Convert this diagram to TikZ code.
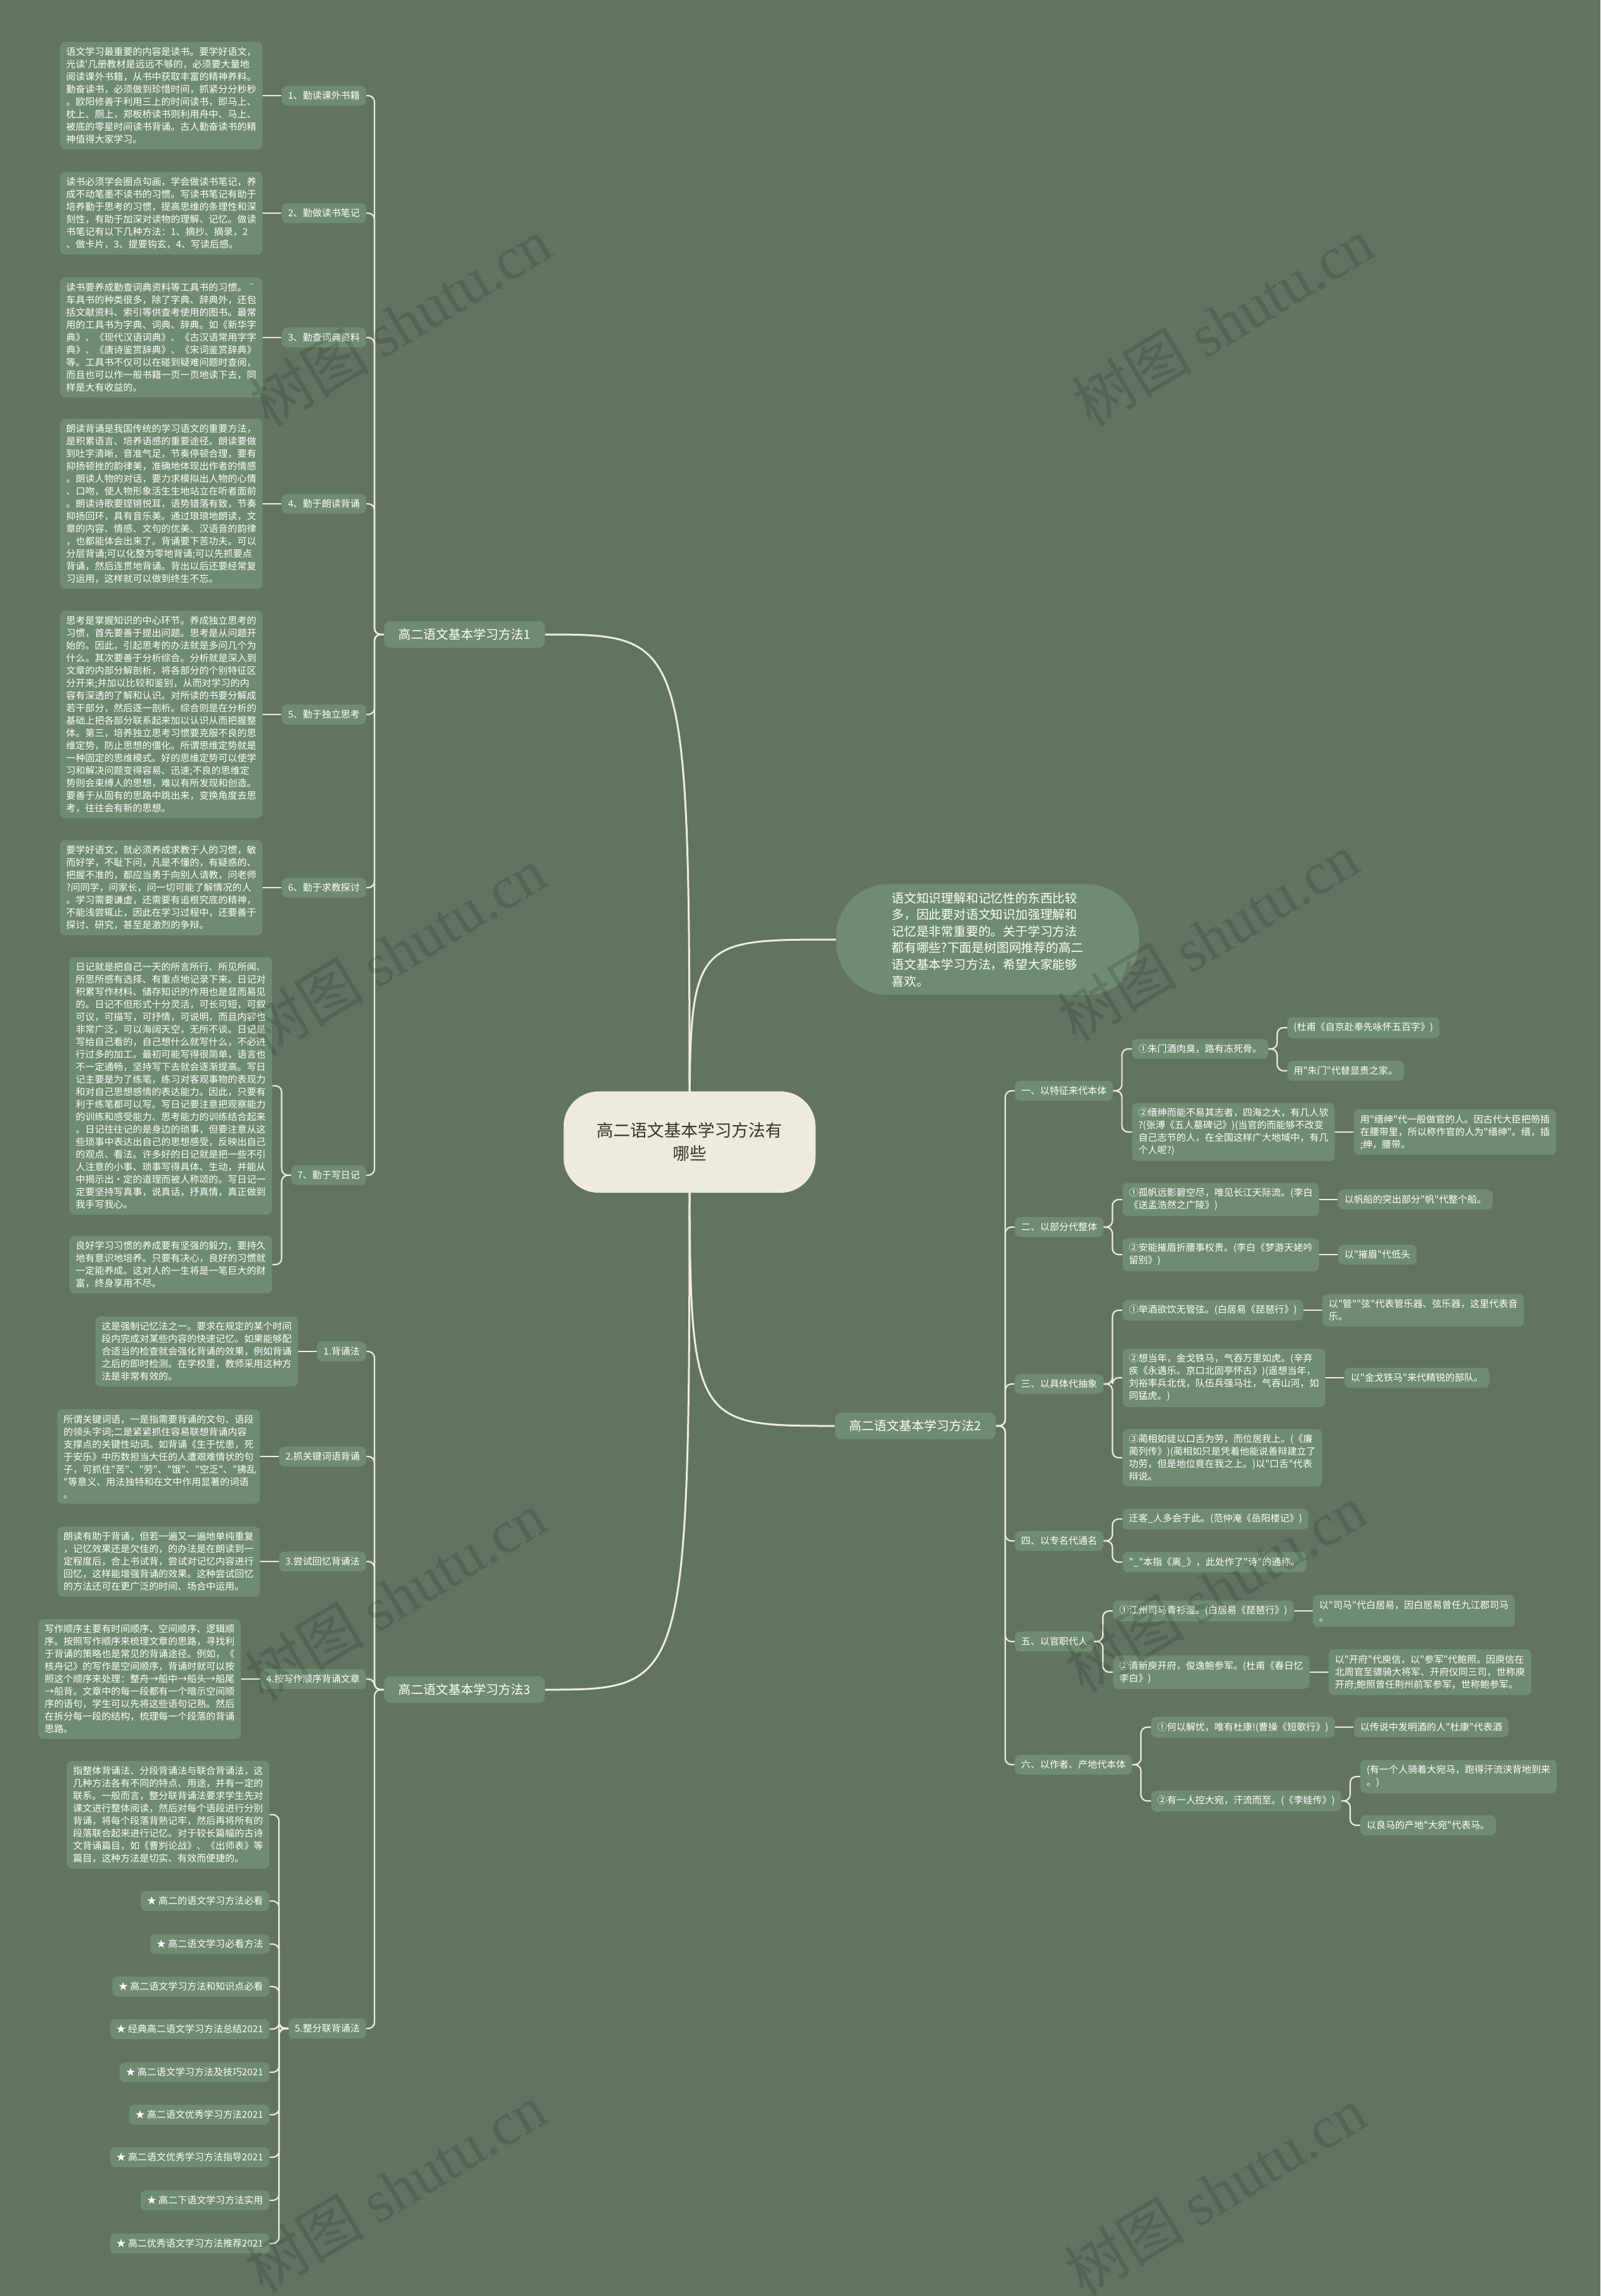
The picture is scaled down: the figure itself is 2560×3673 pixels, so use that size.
\documentclass[tikz,border=0pt]{standalone}
\usepackage{fontspec}
\setmainfont{Noto Sans CJK SC}
\newfontfamily\zhfont{Noto Sans CJK SC}
\newfontfamily\wmlatin{Liberation Serif}
\usetikzlibrary{positioning}
\definecolor{bgc}{RGB}{98,115,97}
\definecolor{boxc}{RGB}{111,139,113}
\definecolor{linec}{RGB}{242,237,220}
\definecolor{rootc}{RGB}{239,235,220}
\pgfdeclarelayer{edgelayer}
\pgfsetlayers{edgelayer,main}

\begin{document}
\begin{tikzpicture}[x=0.5pt,y=-0.5pt,every node/.style={inner sep=0pt},
  lab/.style={fill=boxc,text=white,rounded corners=4pt,inner xsep=5pt,inner ysep=4.4pt,font=\zhfont\fontsize{7.6}{10}\selectfont},
  txt/.style={lab,text width=152pt,align=left},
  note/.style={lab,align=left},
  branch/.style={fill=boxc,text=white,rounded corners=5pt,inner xsep=11.5pt,inner ysep=6pt,font=\zhfont\fontsize{10}{12}\selectfont},
  root/.style={fill=rootc,text=black!80,rounded corners=28pt,align=center,inner xsep=26.5pt,inner ysep=25pt,font=\zhfont\fontsize{13.5}{18.5}\selectfont},
  intro/.style={fill=boxc,text=white,rounded corners=42pt,align=left,inner xsep=44.5pt,inner ysep=6.5pt,font=\zhfont\fontsize{9.9}{13.3}\selectfont},
  link/.style={draw=linec,line width=1.1pt,rounded corners=5pt},
  trunk/.style={draw=linec,line width=1.5pt},
  wmark/.style={rotate=31,text=black,text opacity=0.13,font=\zhfont\fontsize{48}{48}\selectfont}]
\useasboundingbox (0,0) rectangle (2560,3673);

\node[root] (root) at (1103,1827) {高二语文基本学习方法有\\哪些};
\node[intro,anchor=west] (intro) at (1337,1503) {语文知识理解和记忆性的东西比较\\多，因此要对语文知识加强理解和\\记忆是非常重要的。关于学习方法\\都有哪些?下面是树图网推荐的高二\\语文基本学习方法，希望大家能够\\喜欢。};
\node[branch,anchor=west] (b1) at (614,1015) {高二语文基本学习方法1};
\node[branch,anchor=east] (b2) at (1593,2281) {高二语文基本学习方法2};
\node[branch,anchor=west] (b3) at (614,2703) {高二语文基本学习方法3};

\node[lab,anchor=east] (l1) at (586,153) {1、勤读课外书籍};
\node[lab,anchor=east] (l2) at (586,341) {2、勤做读书笔记};
\node[lab,anchor=east] (l3) at (586,540) {3、勤查词典资料};
\node[lab,anchor=east] (l4) at (586,806) {4、勤于朗读背诵};
\node[lab,anchor=east] (l5) at (586,1143) {5、勤于独立思考};
\node[lab,anchor=east] (l6) at (586,1420) {6、勤于求教探讨};
\node[lab,anchor=east] (l7) at (586,1880) {7、勤于写日记};

\node[txt,left=15pt of l1] (t1) {语文学习最重要的内容是读书。要学好语文，\\光读'几册教材是远远不够的，必须要大量地\\阅读课外书籍，从书中获取丰富的精神养料。\\勤奋读书，必须做到珍惜时间，抓紧分分秒秒\\。欧阳修善于利用三上的时间读书，即马上、\\枕上、厕上，郑板桥读书则利用舟中、马上、\\被底的零星时间读书背诵。古人勤奋读书的精\\神值得大家学习。};
\node[txt,left=15pt of l2] (t2) {读书必须学会圈点勾画，学会做读书笔记，养\\成不动笔墨不读书的习惯。写读书笔记有助于\\培养勤于思考的习惯，提高思维的条理性和深\\刻性，有助于加深对读物的理解、记忆。做读\\书笔记有以下几种方法：1、摘抄、摘录，2\\、做卡片，3、提要钩玄，4、写读后感。};
\node[txt,left=15pt of l3] (t3) {读书要养成勤查词典资料等工具书的习惯。ˉ\\车具书的种类很多，除了字典、辞典外，还包\\括文献资料、索引等供查考使用的图书。最常\\用的工具书为字典、词典、辞典。如《新华字\\典》、《现代汉语词典》、《古汉语常用字字\\典》、《唐诗鉴赏辞典》、《宋词鉴赏辞典》\\等。工具书不仅可以在碰到疑难问题时查阅，\\而且也可以作一般书籍一页一页地读下去，同\\样是大有收益的。};
\node[txt,left=15pt of l4] (t4) {朗读背诵是我国传统的学习语文的重要方法，\\是积累语言、培养语感的重要途径。朗读要做\\到吐字清晰，音准气足，节奏停顿合理，要有\\抑扬顿挫的韵律美，准确地体现出作者的情感\\。朗读人物的对话，要力求模拟出人物的心情\\、口吻，使人物形象活生生地站立在听者面前\\。朗读诗歌要铿锵悦耳，语势错落有致，节奏\\抑扬回环，具有音乐美。通过琅琅地朗读，文\\章的内容、情感、文句的优美、汉语音的韵律\\，也都能体会出来了。背诵要下苦功夫。可以\\分层背诵;可以化整为零地背诵;可以先抓要点\\背诵，然后连贯地背诵。背出以后还要经常复\\习运用，这样就可以做到终生不忘。};
\node[txt,left=15pt of l5] (t5) {思考是掌握知识的中心环节。养成独立思考的\\习惯，首先要善于提出问题。思考是从问题开\\始的。因此，引起思考的办法就是多问几个为\\什么。其次要善于分析综合。分析就是深入到\\文章的内部分解剖析，将各部分的个别特征区\\分开来;并加以比较和鉴别，从而对学习的内\\容有深透的了解和认识。对所读的书要分解成\\若干部分，然后逐一剖析。综合则是在分析的\\基础上把各部分联系起来加以认识从而把握整\\体。第三，培养独立思考习惯要克服不良的思\\维定势，防止思想的僵化。所谓思维定势就是\\一种固定的思维模式。好的思维定势可以使学\\习和解决问题变得容易、迅速;不良的思维定\\势则会束缚人的思想，难以有所发现和创造。\\要善于从固有的思路中跳出来，变换角度去思\\考，往往会有新的思想。};
\node[txt,left=15pt of l6] (t6) {要学好语文，就必须养成求教于人的习惯，敏\\而好学，不耻下问，凡是不懂的，有疑惑的、\\把握不准的，都应当勇于向别人请教，问老师\\?问同学，问家长，问一切可能了解情况的人\\。学习需要谦虚，还需要有追根究底的精神，\\不能浅尝辄止，因此在学习过程中，还要善于\\探讨、研究，甚至是激烈的争辩。};
\node[txt,left=15pt of l7,yshift=71.5pt] (t7) {日记就是把自己一天的所言所行、所见所闻、\\所思所感有选择、有重点地记录下来。日记对\\积累写作材料、储存知识的作用也是显而易见\\的。日记不但形式十分灵活，可长可短，可叙\\可议，可描写，可抒情，可说明，而且内容也\\非常广泛，可以海阔天空，无所不谈。日记是\\写给自己看的，自己想什么就写什么，不必进\\行过多的加工。最初可能写得很简单，语言也\\不一定通畅，坚持写下去就会逐渐提高。写日\\记主要是为了练笔，练习对客观事物的表现力\\和对自己思想感情的表达能力。因此，只要有\\利于练笔都可以写。写日记要注意把观察能力\\的训练和感受能力、思考能力的训练结合起来\\。日记往往记的是身边的琐事，但要注意从这\\些琐事中表达出自己的思想感受，反映出自己\\的观点、看法。许多好的日记就是把一些不引\\人注意的小事、琐事写得具体、生动，并能从\\中揭示出·定的道理而被人称颂的。写日记一\\定要坚持写真事，说真话，抒真情，真正做到\\我手写我心。};
\node[txt,left=15pt of l7,yshift=-71.5pt] (t8) {良好学习习惯的养成要有坚强的毅力，要持久\\地有意识地培养。只要有决心，良好的习惯就\\一定能养成。这对人的一生将是一笔巨大的财\\富，终身享用不尽。};

\node[lab,anchor=east] (m1) at (586,2162) {1.背诵法};
\node[lab,anchor=east] (m2) at (586,2330) {2.抓关键词语背诵};
\node[lab,anchor=east] (m3) at (586,2498) {3.尝试回忆背诵法};
\node[lab,anchor=east] (m4) at (586,2686) {4.按写作顺序背诵文章};
\node[lab,anchor=east] (m5) at (586,3245) {5.整分联背诵法};

\node[txt,left=15pt of m1] (u1) {这是强制记忆法之一。要求在规定的某个时间\\段内完成对某些内容的快速记忆。如果能够配\\合适当的检查就会强化背诵的效果，例如背诵\\之后的即时检测。在学校里，教师采用这种方\\法是非常有效的。};
\node[txt,left=15pt of m2] (u2) {所谓关键词语，一是指需要背诵的文句、语段\\的领头字词;二是紧紧抓住容易联想背诵内容\\支撑点的关键性动词。如背诵《生于忧患，死\\于安乐》中历数担当大任的人遭艰难情状的句\\子，可抓住"苦"、"劳"、"饿"、"空乏"、"拂乱\\"等意义、用法独特和在文中作用显著的词语\\。};
\node[txt,left=15pt of m3] (u3) {朗读有助于背诵，但若一遍又一遍地单纯重复\\，记忆效果还是欠佳的，的办法是在朗读到一\\定程度后，合上书试背，尝试对记忆内容进行\\回忆，这样能增强背诵的效果。这种尝试回忆\\的方法还可在更广泛的时间、场合中运用。};
\node[txt,left=15pt of m4] (u4) {写作顺序主要有时间顺序、空间顺序、逻辑顺\\序。按照写作顺序来梳理文章的思路，寻找利\\于背诵的策略也是常见的背诵途径。例如，《\\核舟记》的写作是空间顺序，背诵时就可以按\\照这个顺序来处理：整舟→船中→船头→船尾\\→船背。文章中的每一段都有一个暗示空间顺\\序的语句，学生可以先将这些语句记熟。然后\\在拆分每一段的结构，梳理每一个段落的背诵\\思路。};
\node[txt,left=15pt of m5,yshift=171pt] (u5) {指整体背诵法、分段背诵法与联合背诵法，这\\几种方法各有不同的特点、用途，并有一定的\\联系。一般而言，整分联背诵法要求学生先对\\课文进行整体阅读，然后对每个语段进行分别\\背诵，将每个段落背熟记牢，然后再将所有的\\段落联合起来进行记忆。对于较长篇幅的古诗\\文背诵篇目，如《曹刿论战》、《出师表》等\\篇目，这种方法是切实、有效而便捷的。};
\foreach \i/\dy/\t in {1/102/高二的语文学习方法必看,2/67.5/高二语文学习必看方法,3/33.5/高二语文学习方法和知识点必看,4/-0.5/经典高二语文学习方法总结2021,5/-35/高二语文学习方法及技巧2021,6/-69/高二语文优秀学习方法2021,7/-103/高二语文优秀学习方法指导2021,8/-137.5/高二下语文学习方法实用,9/-172/高二优秀语文学习方法推荐2021}
  \node[lab,left=15pt of m5,yshift=\dy pt] (s\i) {★ \t};

\node[lab,anchor=west] (c1) at (1623,1745) {一、以特征来代本体};
\node[lab,anchor=west] (c2) at (1623,1963) {二、以部分代整体};
\node[lab,anchor=west] (c3) at (1623,2214) {三、以具体代抽象};
\node[lab,anchor=west] (c4) at (1623,2465) {四、以专名代通名};
\node[lab,anchor=west] (c5) at (1623,2626) {五、以官职代人};
\node[lab,anchor=west] (c6) at (1623,2823) {六、以作者、产地代本体};

\node[note,right=15pt of c1,yshift=33.5pt] (r1a) {①朱门酒肉臭，路有冻死骨。};
\node[note,right=15pt of r1a,yshift=17pt] (r1a1) {(杜甫《自京赴奉先咏怀五百字》)};
\node[note,right=15pt of r1a,yshift=-17.5pt] (r1a2) {用"朱门"代替显贵之家。};
\node[note,right=15pt of c1,yshift=-33pt] (r1b) {②缙绅而能不易其志者，四海之大，有几人欤\\?(张溥《五人墓碑记》)(当官的而能够不改变\\自己志节的人，在全国这样广大地域中，有几\\个人呢?)};
\node[note,right=15pt of r1b] (r1b1) {用"缙绅"代一般做官的人。因古代大臣把笏插\\在腰带里，所以称作官的人为"缙绅"。缙，插\\;绅，腰带。};
\node[note,right=15pt of c2,yshift=22pt] (r2a) {①孤帆远影碧空尽，唯见长江天际流。(李白\\《送孟浩然之广陵》)};
\node[note,right=15pt of r2a] (r2a1) {以帆船的突出部分"帆"代整个船。};
\node[note,right=15pt of c2,yshift=-22pt] (r2b) {②安能摧眉折腰事权贵。(李白《梦游天姥吟\\留别》)};
\node[note,right=15pt of r2b] (r2b1) {以"摧眉"代低头};
\node[note,right=15pt of c3,yshift=59pt] (r3a) {①举酒欲饮无管弦。(白居易《琵琶行》)};
\node[note,right=15pt of r3a] (r3a1) {以"管""弦"代表管乐器、弦乐器，这里代表音\\乐。};
\node[note,right=15pt of c3,yshift=5pt] (r3b) {②想当年，金戈铁马，气吞万里如虎。(辛弃\\疾《永遇乐。京口北固亭怀古》)(遥想当年，\\刘裕率兵北伐，队伍兵强马壮，气吞山河，如\\同猛虎。)};
\node[note,right=15pt of r3b] (r3b1) {以"金戈铁马"来代精锐的部队。};
\node[note,right=15pt of c3,yshift=-59pt] (r3c) {③蔺相如徒以口舌为劳，而位居我上。(《廉\\蔺列传》)(蔺相如只是凭着他能说善辩建立了\\功劳，但是地位竟在我之上。)以"口舌"代表\\辩说。};
\node[note,right=15pt of c4,yshift=17.5pt] (r4a) {迁客\_人多会于此。(范仲淹《岳阳楼记》)};
\node[note,right=15pt of c4,yshift=-17pt] (r4b) {"\_"本指《离\_》，此处作了"诗"的通称。};
\node[note,right=15pt of c5,yshift=24.5pt] (r5a) {①江州司马青衫湿。(白居易《琵琶行》)};
\node[note,right=15pt of r5a] (r5a1) {以"司马"代白居易，因白居易曾任九江郡司马\\。};
\node[note,right=15pt of c5,yshift=-24.5pt] (r5b) {②清新庾开府，俊逸鲍参军。(杜甫《春日忆\\李白》)};
\node[note,right=15pt of r5b] (r5b1) {以"开府"代庾信，以"参军"代鲍照。因庾信在\\北周官至骠骑大将军、开府仪同三司，世称庾\\开府;鲍照曾任荆州前军参军，世称鲍参军。};
\node[note,right=15pt of c6,yshift=30pt] (r6a) {①何以解忧，唯有杜康!(曹操《短歌行》)};
\node[note,right=15pt of r6a] (r6a1) {以传说中发明酒的人"杜康"代表酒};
\node[note,right=15pt of c6,yshift=-29pt] (r6b) {②有一人控大宛，汗流而至。(《李娃传》)};
\node[note,right=15pt of r6b,yshift=19.5pt] (r6b1) {(有一个人骑着大宛马，跑得汗流浃背地到来\\。)};
\node[note,right=15pt of r6b,yshift=-19.5pt] (r6b2) {以良马的产地"大宛"代表马。};

\begin{pgfonlayer}{edgelayer}
\fill[bgc] (0,0) rectangle (2560,3673);
\draw[trunk] (root.center) .. controls (root.center |- b1.east) .. (b1.east);
\draw[trunk] (root.center) .. controls (root.center |- b3.east) .. (b3.east);
\draw[trunk] (root.center) .. controls (root.center |- intro.west) .. (intro.west);
\draw[trunk] (root.center) .. controls (root.center |- b2.west) .. (b2.west);
\foreach \i in {1,...,7} \draw[link] (b1.west) -- ++(-15,0) |- (l\i.east);
\foreach \i in {1,...,6} \draw[link] (l\i.west) -- (t\i.east);
\foreach \n in {t7,t8} \draw[link] (l7.west) -- ++(-15,0) |- (\n.east);
\foreach \i in {1,...,5} \draw[link] (b3.west) -- ++(-15,0) |- (m\i.east);
\foreach \i in {1,...,4} \draw[link] (m\i.west) -- (u\i.east);
\foreach \n in {u5,s1,s2,s3,s4,s5,s6,s7,s8,s9} \draw[link] (m5.west) -- ++(-15,0) |- (\n.east);
\foreach \i in {1,...,6} \draw[link] (b2.east) -- ++(15,0) |- (c\i.west);
\foreach \p/\n in {c1/r1a,c1/r1b,r1a/r1a1,r1a/r1a2,c2/r2a,c2/r2b,c3/r3a,c3/r3b,c3/r3c,c4/r4a,c4/r4b,c5/r5a,c5/r5b,c6/r6a,c6/r6b,r6b/r6b1,r6b/r6b2}
  \draw[link] (\p.east) -- ++(14,0) |- (\n.west);
\foreach \p/\n in {r1b/r1b1,r2a/r2a1,r2b/r2b1,r3a/r3a1,r3b/r3b1,r5a/r5a1,r5b/r5b1,r6a/r6a1}
  \draw[link] (\p.east) -- (\n.west);
\end{pgfonlayer}

\foreach \x/\y [count=\k] in {640/515,1956/515,632/1522,1932/1499,632/2553,1944/2541,632/3500,1944/3505}
  \node[wmark] (w\k) at (\x,\y) {树图 {\wmlatin shutu.cn}};
\end{tikzpicture}
\end{document}
